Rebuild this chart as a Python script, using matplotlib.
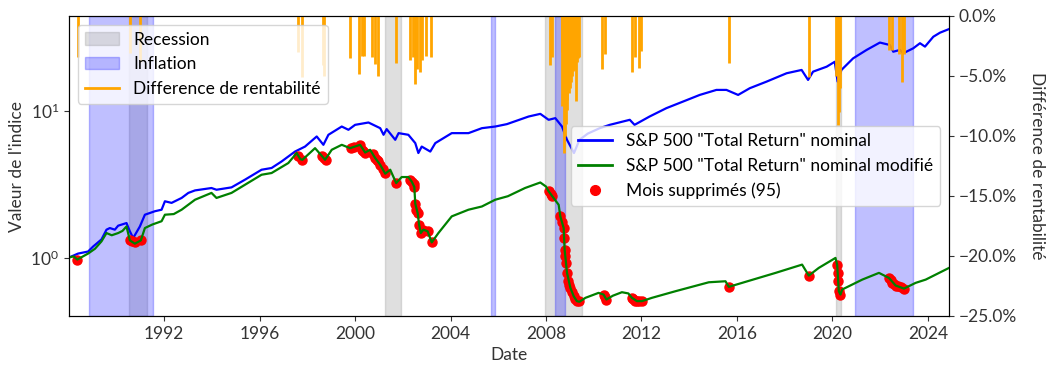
import pandas as pd
import matplotlib
matplotlib.use("Agg")
import matplotlib.pyplot as plt
import matplotlib.dates as mdates
from matplotlib.patches import Patch
from matplotlib.lines import Line2D
from matplotlib.ticker import FuncFormatter, NullLocator


plt.rcParams["font.family"] = ["Lato", "DejaVu Sans"]
plt.rcParams["font.size"] = 12.5

TEXT = "#333333"

# --- data (decimal years) ---

nominal_years = [
    1988.00, 1988.39, 1988.81, 1989.02, 1989.37, 1989.58, 1989.72, 1989.93,
    1990.07, 1990.42, 1990.56, 1990.70, 1990.98, 1991.19, 1991.61, 1991.89,
    1992.03, 1992.31, 1992.73, 1993.01, 1993.29, 1993.98, 1994.19, 1994.82,
    1995.39, 1996.08, 1996.50, 1996.92, 1997.48, 1997.90, 1998.39, 1998.67,
    1998.88, 1999.44, 1999.72, 2000.00, 2000.56, 2001.05, 2001.19, 2001.32,
    2001.68, 2001.82, 2002.23, 2002.52, 2002.65, 2002.79, 2003.15, 2003.36,
    2004.05, 2004.75, 2005.31, 2005.87, 2006.36, 2007.27, 2007.76, 2008.11,
    2008.39, 2008.67, 2008.88, 2009.17, 2009.40, 2009.75, 2010.25, 2010.67,
    2011.51, 2011.71, 2012.34, 2013.04, 2013.74, 2014.44, 2015.14, 2015.56,
    2016.05, 2016.54, 2017.24, 2018.08, 2018.71, 2018.98, 2019.19, 2019.76,
    2020.10, 2020.22, 2020.38, 2020.87, 2021.43, 2021.99, 2022.41, 2022.55,
    2022.83, 2022.97, 2023.39, 2023.67, 2023.88, 2024.23, 2024.51, 2024.89,
]
nominal_values = [
    1.00, 1.065, 1.10, 1.19, 1.33, 1.55, 1.59, 1.55,
    1.65, 1.72, 1.51, 1.36, 1.63, 1.96, 2.07, 2.12,
    2.42, 2.36, 2.55, 2.76, 2.87, 2.98, 2.90, 3.01,
    3.40, 3.97, 4.08, 4.52, 5.28, 5.71, 6.69, 5.87,
    6.87, 7.82, 7.43, 8.03, 8.33, 7.62, 6.87, 7.51,
    6.35, 7.05, 6.87, 6.03, 5.16, 5.71, 5.28, 6.03,
    7.05, 7.05, 7.62, 7.82, 8.12, 9.15, 9.54, 8.69,
    8.92, 7.82, 6.35, 5.16, 6.35, 7.00, 7.62, 8.03,
    8.69, 8.03, 9.15, 10.43, 11.57, 12.84, 13.89, 13.89,
    12.84, 14.27, 15.82, 18.04, 19.00, 16.25, 18.50, 20.00,
    21.60, 15.82, 19.00, 22.80, 26.00, 29.20, 28.10, 25.30,
    26.00, 24.70, 26.70, 28.90, 27.40, 32.00, 34.10, 36.10,
]

modified_years = [
    1988.00, 1988.20, 1988.36, 1988.60, 1988.81, 1989.10, 1989.37, 1989.58,
    1989.80, 1990.07, 1990.25, 1990.42, 1990.56, 1990.77, 1991.02, 1991.19,
    1991.50, 1991.89, 1992.03, 1992.40, 1992.73, 1993.29, 1993.98, 1994.19,
    1994.82, 1995.39, 1996.08, 1996.50, 1997.20, 1997.55, 1997.70, 1997.79,
    1998.32, 1998.60, 1998.74, 1999.02, 1999.44, 1999.79, 2000.21, 2000.42,
    2000.63, 2000.84, 2001.05, 2001.26, 2001.47, 2001.72, 2001.95, 2002.23,
    2002.37, 2002.48, 2002.52, 2002.62, 2002.68, 2002.75, 2002.86, 2003.04,
    2003.21, 2003.49, 2004.05, 2004.75, 2005.31, 2005.87, 2006.40, 2007.12,
    2007.76, 2008.00, 2008.11, 2008.27, 2008.53, 2008.60, 2008.74, 2008.78,
    2008.88, 2009.02, 2009.16, 2009.29, 2009.40, 2009.65, 2010.20, 2010.41,
    2010.53, 2010.80, 2011.18, 2011.45, 2011.60, 2011.81, 2012.02, 2012.44,
    2013.42, 2014.82, 2015.52, 2015.66, 2016.22, 2017.62, 2018.73, 2019.01,
    2019.43, 2020.13, 2020.20, 2020.27, 2020.34, 2020.41, 2021.25, 2021.95,
    2022.37, 2022.65, 2023.00, 2023.49, 2023.91, 2024.89,
]
modified_values = [
    1.00, 1.02, 0.97, 1.02, 1.065, 1.15, 1.29, 1.47,
    1.42, 1.47, 1.52, 1.63, 1.31, 1.245, 1.31, 1.59,
    1.68, 1.77, 1.96, 1.98, 2.12, 2.48, 2.76, 2.55,
    2.76, 3.14, 3.67, 3.77, 4.41, 5.16, 4.69, 4.64,
    5.57, 4.94, 4.64, 5.43, 5.87, 5.57, 5.87, 5.20,
    5.43, 4.77, 4.29, 3.73, 3.97, 3.22, 3.54, 3.54,
    3.30, 3.03, 2.33, 2.01, 1.68, 1.47, 1.55, 1.51,
    1.27, 1.47, 1.91, 2.12, 2.23, 2.48, 2.62, 2.98,
    3.25, 3.05, 2.83, 2.61, 2.29, 1.91, 1.59, 1.13,
    0.787, 0.622, 0.545, 0.505, 0.50, 0.532, 0.575, 0.56,
    0.518, 0.55, 0.581, 0.57, 0.532, 0.505, 0.505, 0.532,
    0.590, 0.679, 0.69, 0.632, 0.673, 0.787, 0.896, 0.754,
    0.851, 0.995, 0.896, 0.59, 0.56, 0.606, 0.708, 0.787,
    0.727, 0.645, 0.615, 0.673, 0.708, 0.851,
]

removed_years = [
    1988.36, 1990.58, 1990.66, 1990.77, 1991.02, 1997.62, 1997.79, 1998.60,
    1998.68, 1998.77, 1999.83, 1999.97, 2000.21, 2000.27, 2000.34, 2000.42,
    2000.77, 2000.84, 2000.92, 2000.98, 2001.05, 2001.15, 2001.23, 2001.72,
    2002.30, 2002.38, 2002.45, 2002.48, 2002.52, 2002.57, 2002.62, 2002.68,
    2002.75, 2002.86, 2003.04, 2003.21, 2008.11, 2008.20, 2008.27, 2008.60,
    2008.67, 2008.74, 2008.76, 2008.78, 2008.81, 2008.83, 2008.88, 2008.92,
    2008.97, 2009.02, 2009.09, 2009.16, 2009.22, 2009.29, 2009.39, 2010.41,
    2010.47, 2010.53, 2011.60, 2011.66, 2011.74, 2011.81, 2011.90, 2012.02,
    2015.66, 2019.01, 2020.20, 2020.22, 2020.24, 2020.27, 2020.34, 2022.37,
    2022.45, 2022.51, 2022.58, 2022.65, 2022.75, 2022.86, 2023.00,
]
removed_values = [
    0.97, 1.31, 1.29, 1.27, 1.31, 4.89, 4.64, 4.94,
    4.75, 4.59, 5.57, 5.71, 5.87, 5.43, 5.30, 5.20,
    5.10, 4.77, 4.60, 4.52, 4.29, 4.00, 3.77, 3.22,
    3.40, 3.30, 3.15, 3.03, 2.33, 2.12, 2.01, 1.68,
    1.47, 1.55, 1.51, 1.27, 2.83, 2.70, 2.61, 1.91,
    1.75, 1.59, 1.35, 1.13, 1.02, 0.92, 0.787, 0.69,
    0.65, 0.622, 0.58, 0.545, 0.52, 0.505, 0.505, 0.56,
    0.535, 0.518, 0.532, 0.52, 0.51, 0.505, 0.505, 0.505,
    0.632, 0.754, 0.896, 0.787, 0.69, 0.59, 0.56, 0.727,
    0.70, 0.673, 0.66, 0.645, 0.64, 0.632, 0.615,
]

gap_years = [
    1988.40, 1990.58, 1990.98, 1997.62, 1997.76, 1998.64, 1998.71, 1999.79,
    2000.18, 2000.27, 2000.37, 2000.72, 2000.84, 2000.98, 2001.72, 2002.30,
    2002.44, 2002.51, 2002.58, 2002.72, 2002.79, 2002.97, 2003.18, 2008.17,
    2008.25, 2008.65, 2008.69, 2008.74, 2008.78, 2008.82, 2008.86, 2008.90,
    2008.95, 2008.99, 2009.03, 2009.07, 2009.11, 2009.16, 2009.20, 2009.24,
    2009.29, 2009.33, 2009.37, 2010.35, 2010.49, 2011.60, 2011.74, 2011.90,
    2011.97, 2015.66, 2019.01, 2020.17, 2020.22, 2020.26, 2020.30, 2022.37,
    2022.51, 2022.79, 2022.90, 2023.00,
]
gap_pct = [
    -3.4, -3.1, -3.8, -3.0, -5.1, -4.1, -5.0, -3.5,
    -4.8, -3.3, -3.3, -3.4, -4.0, -5.0, -3.9, -3.7,
    -3.4, -5.7, -4.4, -4.7, -3.7, -3.3, -3.4, -4.1,
    -3.4, -3.0, -7.5, -11.4, -10.0, -9.0, -7.8, -7.0,
    -6.4, -6.0, -5.5, -5.0, -4.6, -4.5, -4.2, -7.1,
    -3.8, -3.5, -3.4, -4.4, -3.2, -4.7, -3.4, -4.3,
    -2.9, -3.9, -5.1, -5.0, -9.1, -8.0, -6.0, -2.8,
    -2.8, -3.2, -5.5, -3.2,
]

recession_start = [1990.53, 2001.23, 2007.97, 2020.17]
recession_end = [1991.26, 2001.93, 2009.50, 2020.38]

inflation_start = [1988.85, 2005.69, 2008.38, 2020.93]
inflation_end = [1991.54, 2005.84, 2008.78, 2023.36]


def to_dates(years):
    out = []
    for y in years:
        base = pd.Timestamp(int(y), 1, 1)
        out.append(base + pd.Timedelta(days=(y - int(y)) * 365.25))
    return out


def pct_label(v, pos):
    s = f"{abs(v):.1f}%"
    return "\u2212" + s if v < 0 else s


def main():

    fig = plt.figure(figsize=(10.53, 3.75), dpi=100)
    ax = fig.add_axes([69 / 1053, 1 - 316 / 375, 880 / 1053, 300 / 375])
    ax2 = ax.twinx()

    for s, e in zip(to_dates(recession_start), to_dates(recession_end)):
        ax.axvspan(s, e, color="gray", alpha=0.25, zorder=0)
    for s, e in zip(to_dates(inflation_start), to_dates(inflation_end)):
        ax.axvspan(s, e, color="blue", alpha=0.25, zorder=0)

    ax.plot(to_dates(nominal_years), nominal_values, color="blue", lw=1.6, zorder=3)
    ax.plot(to_dates(removed_years), removed_values, "o", color="red", ms=6.5, zorder=4)
    ax.plot(to_dates(modified_years), modified_values, color="green", lw=1.6, zorder=5)

    ax.set_yscale("log")
    ax.set_ylim(0.40, 44.3)
    ax.yaxis.set_minor_locator(NullLocator())
    ax.set_xlim(pd.Timestamp("1988-01-05"), pd.Timestamp("2024-11-20"))
    ax.xaxis.set_major_locator(mdates.YearLocator(4))
    ax.xaxis.set_major_formatter(mdates.DateFormatter("%Y"))

    ax.set_xlabel("Date", color=TEXT)
    ax.set_ylabel("Valeur de l'indice", color=TEXT)
    ax.tick_params(colors=TEXT, labelcolor=TEXT)

    ax2.vlines(to_dates(gap_years), gap_pct, 0, color="orange", lw=2)
    ax2.set_ylim(-25, 0)
    ax2.yaxis.set_major_formatter(FuncFormatter(pct_label))
    ax2.set_ylabel("Différence de rentabilité", rotation=270, labelpad=20, color=TEXT)
    ax2.tick_params(colors=TEXT, labelcolor=TEXT)

    h1 = [
        Patch(facecolor="gray", edgecolor="gray", alpha=0.25, label="Recession"),
        Patch(facecolor="blue", edgecolor="blue", alpha=0.25, label="Inflation"),
        Line2D([], [], color="orange", lw=2, label="Difference de rentabilité"),
    ]
    leg1 = ax2.legend(handles=h1, loc="upper left")
    ax2.add_artist(leg1)

    h2 = [
        Line2D([], [], color="blue", lw=2, label='S&P 500 "Total Return" nominal'),
        Line2D([], [], color="green", lw=2, label='S&P 500 "Total Return" nominal modifié'),
        Line2D([], [], marker="o", ls="none", color="red", ms=7, label="Mois supprimés (95)"),
    ]
    ax2.legend(handles=h2, loc="center right")

    fig.savefig("out.png", dpi=100)
    plt.close(fig)


if __name__ == "__main__":
    main()
